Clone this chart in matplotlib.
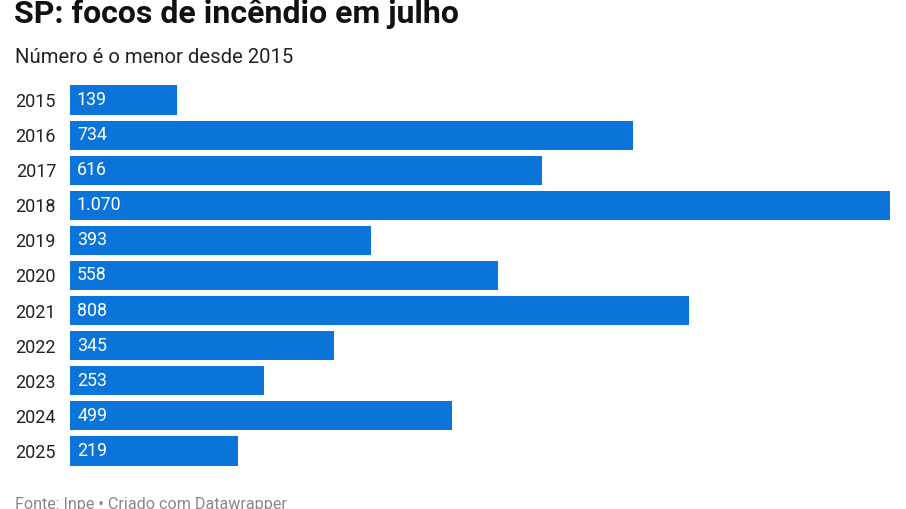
import matplotlib.pyplot as plt

years = ['2015', '2016', '2017', '2018', '2019', '2020', '2021', '2022', '2023', '2024', '2025']
focos = [139, 734, 616, 1070, 393, 558, 808, 345, 253, 499, 219]

W, H = 906, 509
plt.rcParams['font.family'] = ['Roboto', 'DejaVu Sans']

fig = plt.figure(figsize=(W / 100, H / 100), dpi=100)

# axes placed in pixel coords: bars from x=70 to x=890, rows from y=82.5 to 468.5
ax = fig.add_axes([70 / W, 1 - 468.5 / H, 820 / W, 386 / H])
pos = list(range(len(years)))
ax.barh(pos, focos, height=0.83, color='#0b74da')
ax.set_xlim(0, max(focos))
ax.set_ylim(len(years) - 0.5, -0.5)

ax.set_yticks(pos)
ax.set_yticklabels(years, fontsize=13, color='#222222')
ax.tick_params(axis='y', length=0, pad=10)
ax.set_xticks([])
for s in ax.spines.values():
    s.set_visible(False)

# values inside bars, Brazilian thousands separator
for p, v in zip(pos, focos):
    label = f'{v:,}'.replace(',', '.')
    ax.text(7 / 820 * max(focos), p, label, color='white', fontsize=12.8,
            va='center', ha='left')

fig.text(14 / W, 1 - 14 / H, 'SP: focos de incêndio em julho', fontsize=23,
         fontweight='bold', color='#111111', va='center', ha='left')
fig.text(15 / W, 1 - 58 / H, 'Número é o menor desde 2015', fontsize=14.6,
         color='#222222', va='center', ha='left')
fig.text(15 / W, 1 - 504 / H, 'Fonte: Inpe • Criado com Datawrapper', fontsize=11.6,
         color='#888888', va='center', ha='left')

fig.savefig('out.png', dpi=100)
